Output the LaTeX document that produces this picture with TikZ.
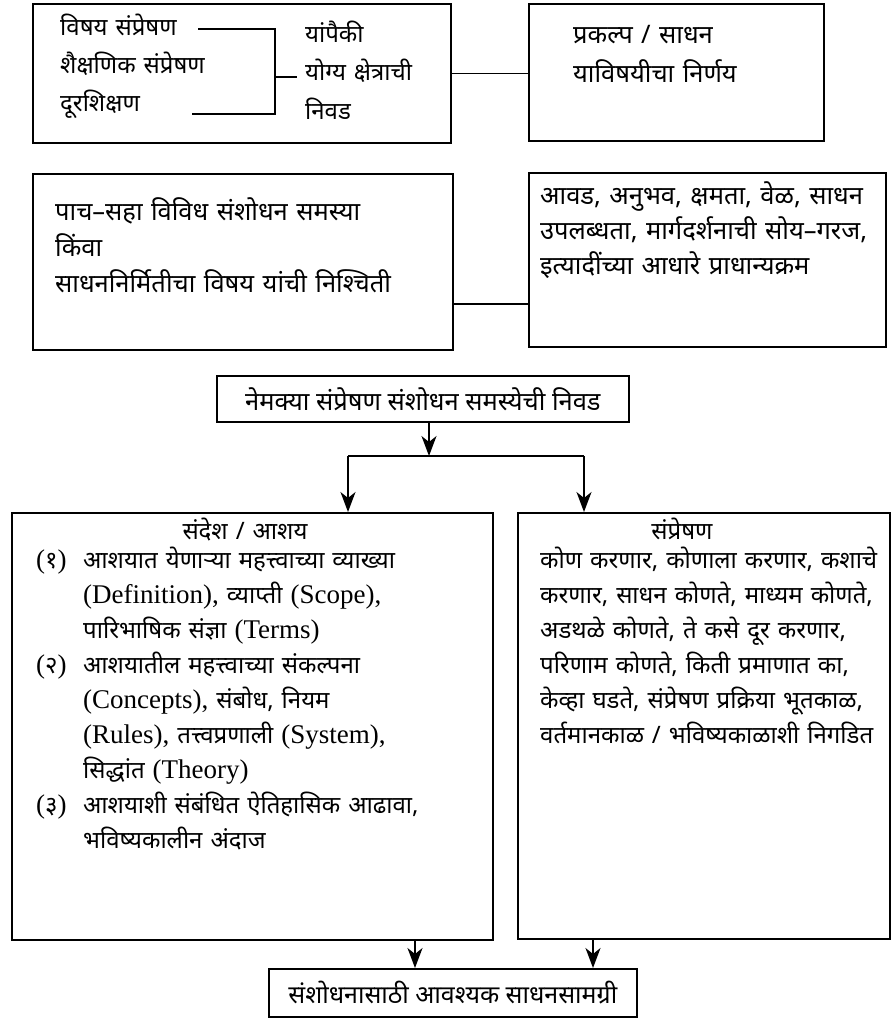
\documentclass[tikz,border=0pt]{standalone}
\usepackage{fontspec}
\setmainfont{Liberation Serif}
\newfontfamily\dev[Script=Devanagari]{Noto Sans}
\usetikzlibrary{arrows.meta}
\newcommand\jl[2]{\makebox[#1][s]{#2}}
\newcommand\en[1]{{\rmfamily\fontsize{27}{35}\selectfont #1}}

\begin{document}
\begin{tikzpicture}[x=1pt,y=-1pt,
  box/.style={draw,line width=1.7pt,inner sep=0pt,anchor=north west},
  txt/.style={anchor=base west,inner sep=0pt,align=left,text width=#1,
    font=\dev\fontsize{24}{35}\selectfont},
  txt/.default=360pt,
  link/.style={line width=1.7pt},
  arr/.style={line width=1.7pt,-{Stealth[length=20pt,width=15pt,inset=6pt]}}]%
\useasboundingbox (0,0) rectangle (891,1018);
\begin{scope}%
\node[box,minimum width=418pt,minimum height=139pt] (fieldbox) at (32,3) {}; %%
\node[box,minimum width=295pt,minimum height=137pt] (decbox) at (528,3) {}; %%
\node[box,minimum width=420pt,minimum height=176pt] (probbox) at (32,173) {}; %%
\node[box,minimum width=357pt,minimum height=174pt] (priobox) at (528,172) {}; %%
\node[box,minimum width=481pt,minimum height=427pt] (msgbox) at (11,512) {}; %%
\node[box,minimum width=372pt,minimum height=426pt] (commbox) at (517,512) {}; %%
\node[box,minimum width=412pt,minimum height=46pt,font=\dev\fontsize{25.5}{30}\selectfont] (selbox) at (216,375) {नेमक्या संप्रेषण संशोधन समस्येची निवड}; %%
\node[box,minimum width=368pt,minimum height=48pt,font=\dev\fontsize{25}{30}\selectfont] (needbox) at (268,968) {संशोधनासाठी आवश्यक साधनसामग्री}; %%
\end{scope}
% texts in the boxes
\node[txt=200pt,font=\dev\fontsize{24}{38}\selectfont] (fields) at (60,35) {विषय संप्रेषण\\शैक्षणिक संप्रेषण\\दूरशिक्षण}; %%
\node[txt=150pt,font=\dev\fontsize{24}{38.5}\selectfont] (choice) at (305,42) {यांपैकी\\योग्य क्षेत्राची\\निवड}; %%
\node[txt=230pt,font=\dev\fontsize{25.5}{39}\selectfont] (decide) at (573,43) {प्रकल्प / साधन\\याविषयीचा निर्णय}; %%
\node[txt=390pt,font=\dev\fontsize{25.5}{36}\selectfont] (problems) at (55,220) {पाच–सहा विविध संशोधन समस्या\\किंवा\\साधननिर्मितीचा विषय यांची निश्चिती}; %%
\node[txt=342pt,font=\dev\fontsize{25.5}{35}\selectfont] (priority) at (540,204) {\jl{342pt}{आवड, अनुभव, क्षमता, वेळ, साधन}\\\jl{342pt}{उपलब्धता, मार्गदर्शनाची सोय–गरज,}\\इत्यादींच्या आधारे प्राधान्यक्रम}; %%
\node[txt=200pt,anchor=base,align=center] (msgtitle) at (245,539) {संदेश / आशय}; %%
\node[txt=40pt] (n1) at (36,568) {\en{(}१\en{)}}; %%
\node[txt=367pt] (item1) at (83,568) {\jl{367pt}{आशयात येणाऱ्या महत्त्वाच्या व्याख्या}\\\jl{367pt}{\en{(Definition),} व्याप्ती \en{(Scope),}}\\पारिभाषिक संज्ञा \en{(Terms)}}; %%
\node[txt=40pt] (n2) at (36,673) {\en{(}२\en{)}}; %%
\node[txt=367pt] (item2) at (83,673) {\jl{367pt}{आशयातील महत्त्वाच्या संकल्पना}\\\jl{367pt}{\en{(Concepts),} संबोध, नियम}\\\jl{367pt}{\en{(Rules),} तत्त्वप्रणाली \en{(System),}}\\सिद्धांत \en{(Theory)}}; %%
\node[txt=40pt] (n3) at (36,813) {\en{(}३\en{)}}; %%
\node[txt=367pt] (item3) at (83,813) {\jl{367pt}{आशयाशी संबंधित ऐतिहासिक आढावा,}\\भविष्यकालीन अंदाज}; %%
\node[txt=200pt,anchor=base,align=center] (commtitle) at (682,539) {संप्रेषण}; %%
\node[txt=337pt] (commlist) at (540,568) {\jl{337pt}{कोण करणार, कोणाला करणार, कशाचे}\\\jl{337pt}{करणार, साधन कोणते, माध्यम कोणते,}\\\jl{337pt}{अडथळे कोणते, ते कसे दूर करणार,}\\\jl{337pt}{परिणाम कोणते, किती प्रमाणात का,}\\\jl{337pt}{केव्हा घडते, संप्रेषण प्रक्रिया भूतकाळ,}\\\jl{337pt}{वर्तमानकाळ / भविष्यकाळाशी निगडित}}; %%
% bracket
\coordinate (bra) at (198,29); %%
\coordinate (brt) at (275,29); %%
\coordinate (brb) at (275,114); %%
\coordinate (brc) at (192,114); %%
\coordinate (brm) at (275,77); %%
\coordinate (brn) at (297,77); %%
\draw[link] (bra)--(brt)--(brb)--(brc);
\draw[link] (brm)--(brn);
% links
\coordinate (midlink) at (0,304); %%
\coordinate (split) at (429,456); %%
\coordinate (splitl) at (348,456); %%
\coordinate (splitr) at (584,456); %%
\coordinate (joinl) at (415,0); %%
\coordinate (joinr) at (593,0); %%
\draw[link] (fieldbox.east)--(fieldbox.east -| decbox.west);
\draw[link] (probbox.east |- midlink)--(priobox.west |- midlink);
\draw[arr] (selbox.south -| split)--(split);
\draw[link] (splitl)--(splitr);
\draw[arr] (splitl)--(splitl |- msgbox.north);
\draw[arr] (splitr)--(splitr |- commbox.north);
\draw[arr] (joinl |- msgbox.south)--(joinl |- needbox.north);
\draw[arr] (joinr |- commbox.south)--(joinr |- needbox.north);
\end{tikzpicture}
\end{document}
